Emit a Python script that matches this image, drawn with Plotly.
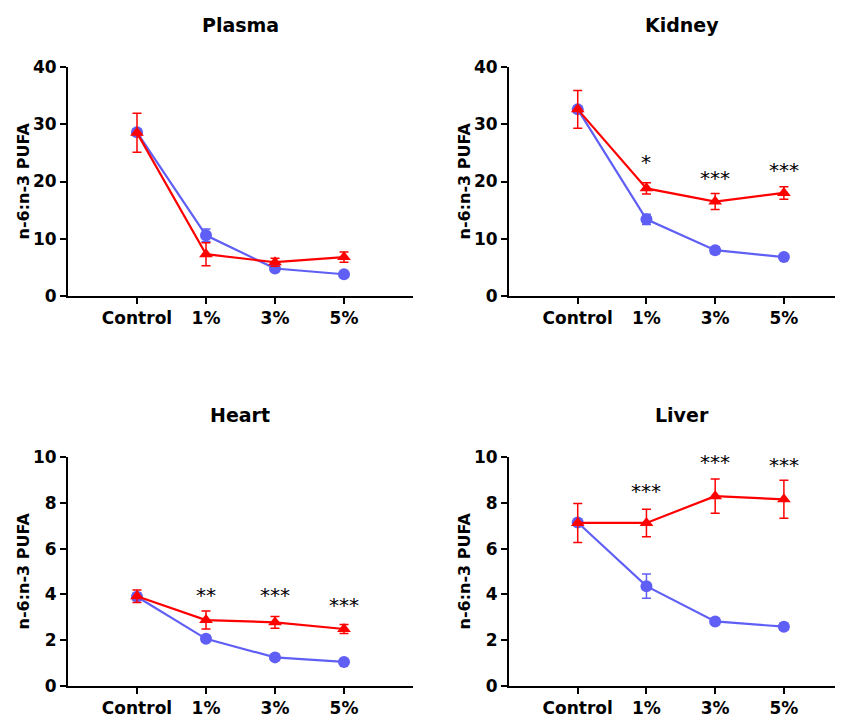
import plotly.graph_objects as go

categories = ["Control", "1%", "3%", "5%"]

panels = ["Plasma", "Kidney", "Heart", "Liver"]

blue_mean = {
    "Plasma": [28.6, 10.6, 4.8, 3.8],
    "Kidney": [32.6, 13.4, 8.0, 6.8],
    "Heart": [3.9, 2.06, 1.25, 1.05],
    "Liver": [7.14, 4.36, 2.82, 2.59],
}
blue_err = {
    "Plasma": [0.6, 1.1, 0.5, 0.4],
    "Kidney": [0.6, 0.9, 0.6, 0.4],
    "Heart": [0.15, 0.12, 0.06, 0.06],
    "Liver": [0.1, 0.53, 0.1, 0.15],
}
red_mean = {
    "Plasma": [28.5, 7.3, 5.9, 6.8],
    "Kidney": [32.6, 18.8, 16.5, 18.0],
    "Heart": [3.92, 2.88, 2.78, 2.49],
    "Liver": [7.12, 7.12, 8.29, 8.15],
}
red_err = {
    "Plasma": [3.4, 2.0, 0.7, 0.9],
    "Kidney": [3.3, 1.0, 1.4, 1.1],
    "Heart": [0.27, 0.39, 0.26, 0.2],
    "Liver": [0.85, 0.6, 0.75, 0.83],
}
stars = {
    "Plasma": ["", "", "", ""],
    "Kidney": ["", "*", "***", "***"],
    "Heart": ["", "**", "***", "***"],
    "Liver": ["", "***", "***", "***"],
}
star_y = {
    "Plasma": [0, 0, 0, 0],
    "Kidney": [0, 23.6, 20.8, 22.1],
    "Heart": [0, 4.0, 4.0, 3.6],
    "Liver": [0, 8.56, 9.83, 9.68],
}
y_max = {"Plasma": 40, "Kidney": 40, "Heart": 10, "Liver": 10}
y_dtick = {"Plasma": 10, "Kidney": 10, "Heart": 2, "Liver": 2}

# page body has an 8px margin: figure occupies window pixels 8..843, 8..716
OFF = 8
W, H = 843 - OFF, 716 - OFF
BLUE = "#5f5ff5"
RED = "#ff0000"
FONT = "DejaVu Sans"

# panel geometry in window pixels
x_dom = {"Plasma": (68, 413), "Kidney": (509, 843), "Heart": (68, 413), "Liver": (509, 843)}
x_rng = {"Plasma": [-1, 4], "Kidney": [-1, 3.86], "Heart": [-1, 4], "Liver": [-1, 3.86]}
y_dom = {"Plasma": (67, 296), "Kidney": (67, 296), "Heart": (457, 686), "Liver": (457, 686)}


def fx(px):
    return min(max((px - OFF) / W, 0), 1)


def fy(py):
    return min(max(1 - (py - OFF) / H, 0), 1)


fig = go.Figure()
annotations = []
layout = {}

for i, p in enumerate(panels, start=1):
    xa = "x" if i == 1 else f"x{i}"
    ya = "y" if i == 1 else f"y{i}"
    fig.add_trace(go.Scatter(
        x=categories, y=blue_mean[p], xaxis=xa, yaxis=ya, mode="lines+markers",
        line=dict(color=BLUE, width=2.2), marker=dict(symbol="circle", size=12, color=BLUE),
        error_y=dict(type="data", array=blue_err[p], color=BLUE, thickness=1.5, width=4.5),
        showlegend=False, cliponaxis=False))
    fig.add_trace(go.Scatter(
        x=categories, y=red_mean[p], xaxis=xa, yaxis=ya, mode="lines+markers",
        line=dict(color=RED, width=2.2), marker=dict(symbol="triangle-up", size=12, color=RED),
        error_y=dict(type="data", array=red_err[p], color=RED, thickness=1.5, width=4.5),
        showlegend=False, cliponaxis=False))

    x0, x1 = x_dom[p]
    y0, y1 = y_dom[p]
    xkey = "xaxis" if i == 1 else f"xaxis{i}"
    ykey = "yaxis" if i == 1 else f"yaxis{i}"
    layout[xkey] = dict(
        domain=[fx(x0), fx(x1)], anchor=ya, type="category", automargin=False,
        categoryorder="array", categoryarray=categories, range=x_rng[p],
        showline=True, linecolor="black", linewidth=2, showgrid=False, zeroline=False,
        ticks="outside", ticklen=6, tickwidth=2, tickcolor="black",
        tickfont=dict(family=FONT, size=17, color="black", weight="bold"))
    layout[ykey] = dict(
        domain=[fy(y1), fy(y0)], anchor=xa, range=[0, y_max[p]], dtick=y_dtick[p],
        automargin=False,
        showline=True, linecolor="black", linewidth=2, showgrid=False, zeroline=False,
        ticks="outside", ticklen=6, tickwidth=2, tickcolor="black",
        tickfont=dict(family=FONT, size=17, color="black", weight="bold"))

    cx = 240 if p in ("Plasma", "Heart") else 682
    annotations.append(dict(
        text=f"<b>{p}</b>", x=fx(cx), y=fy(y0 - 42), xref="paper", yref="paper",
        showarrow=False, xanchor="center", yanchor="middle",
        font=dict(family=FONT, size=19, color="black")))
    annotations.append(dict(
        text="<b>n-6:n-3 PUFA</b>", x=fx(x0 - 45), y=fy((y0 + y1) / 2),
        xref="paper", yref="paper", showarrow=False, textangle=-90,
        xanchor="center", yanchor="middle",
        font=dict(family=FONT, size=16, color="black")))
    for c, s, sy in zip(categories, stars[p], star_y[p]):
        if s:
            annotations.append(dict(
                text=s, x=c, y=sy, xref=xa, yref=ya, showarrow=False,
                xanchor="center", yanchor="middle", yshift=-1,
                font=dict(family="DejaVu Sans", size=20, color="black")))

fig.update_layout(
    width=W, height=H, margin=dict(l=0, r=0, t=0, b=0, pad=0, autoexpand=False),
    paper_bgcolor="white", plot_bgcolor="white",
    annotations=annotations, **layout)

fig.write_html("out.html")
